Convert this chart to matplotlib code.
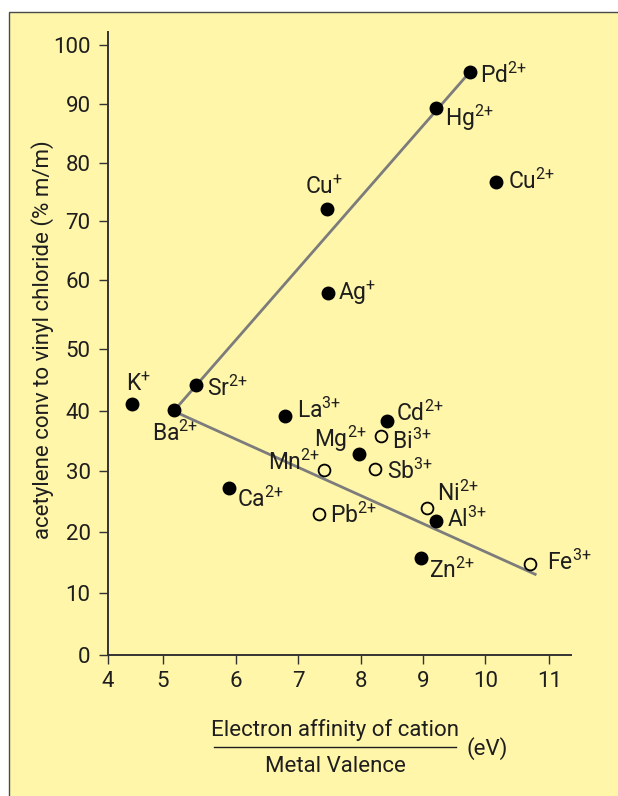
import numpy as np
import matplotlib
matplotlib.use("Agg")
import matplotlib.pyplot as plt
from matplotlib.patches import Rectangle
from matplotlib.lines import Line2D

FONT = "Roboto"
plt.rcParams['font.family'] = [FONT, 'DejaVu Sans']
plt.rcParams['mathtext.fontset'] = 'custom'
plt.rcParams['mathtext.rm'] = FONT
plt.rcParams['mathtext.it'] = FONT
plt.rcParams['mathtext.bf'] = FONT

# ---------------- data ----------------
ions = ["Pd", "Hg", "Cu", "Cu", "Ag", "K", "Ba", "Sr", "La", "Ca",
        "Cd", "Mg", "Zn", "Al", "Mn", "Pb", "Bi", "Sb", "Ni", "Fe"]
charges = ["2+", "2+", "+", "2+", "+", "+", "2+", "2+", "3+", "2+",
           "2+", "2+", "2+", "3+", "2+", "2+", "3+", "3+", "2+", "3+"]
x_vals = [9.76, 9.21, 7.45, 10.17, 7.47, 4.44, 5.15, 5.46, 6.78, 5.91,
          8.42, 7.96, 8.97, 9.21, 7.40, 7.33, 8.32, 8.23, 9.06, 10.70]
y_vals = [95.5, 89.2, 72.1, 76.7, 58.1, 41.2, 40.2, 44.2, 39.2, 27.1,
          38.3, 32.8, 15.7, 21.8, 30.2, 22.9, 35.8, 30.3, 23.9, 14.8]
filled = [True, True, True, True, True, True, True, True, True, True,
          True, True, True, True, False, False, False, False, False, False]

# trend lines
upper_x = [5.15, 9.76]
upper_y = [40.0, 95.5]
lower_x = [5.15, 10.80]
lower_y = [40.0, 13.0]

x_ticks = [4, 5, 6, 7, 8, 9, 10, 11]
y_ticks = [0, 10, 20, 30, 40, 50, 60, 70, 80, 90, 100]

# ---------------- layout / style ----------------
W, H = 618, 796
# label offsets in pixels (dx, dy) and horizontal alignment
label_off = [(10, -11), (9, -18), (-22, 15), (12, -7), (10, -7), (-6, 13),
             (-22, -31), (11, -11), (12, -2), (8, -18),
             (9, 0), (8, 7), (8, -20), (11, -6), (-3, 0), (11, -9),
             (11, -13), (12, -10), (10, 7), (17, -6)]
label_ha = ["left"] * 11 + ["right", "left", "left", "right"] + ["left"] * 5

# hand-drawn original axes have uneven tick spacing; reproduce via a scale
x_brk = [3, 4, 5, 6, 7, 8, 9, 10, 11, 12]
x_pos = [45, 108, 162.7, 235.7, 298.3, 361, 422.7, 485, 549, 612]
y_brk = [-10, 0, 10, 20, 30, 40, 50, 60, 70, 80, 90, 100, 110]
y_pos = [-60, 0, 61.7, 123.3, 184.3, 244, 305.7, 375.7, 434, 492.7, 551.7, 610, 668]

def fx(v):
    return np.interp(v, x_brk, x_pos)

def fx_inv(v):
    return np.interp(v, x_pos, x_brk)

def fy(v):
    return np.interp(v, y_brk, y_pos)

def fy_inv(v):
    return np.interp(v, y_pos, y_brk)

BG = "#FFF6AA"
TXT = "#1e1e1e"
LINE = "#7c7c7c"
FS = 16

fig = plt.figure(figsize=(W / 100, H / 100), dpi=100, facecolor="white")
fig.patches.append(Rectangle((9 / W, -0.01), 1.0, (H - 12) / H + 0.01,
                             transform=fig.transFigure, facecolor=BG,
                             edgecolor="#4a4a4a", linewidth=1.0, zorder=-5))

ax_l, ax_r = 108 / W, 570.7 / W
ax_b, ax_t = (H - 655) / H, (H - 32) / H
ax = fig.add_axes([ax_l, ax_b, ax_r - ax_l, ax_t - ax_b])
ax.set_zorder(1)
ax.set_facecolor("none")
ax.set_xscale("function", functions=(fx, fx_inv))
ax.set_yscale("function", functions=(fy, fy_inv))
ax.set_xlim(4, 11.34)
ax.set_ylim(0, 102.3)

for s in ["top", "right"]:
    ax.spines[s].set_visible(False)
for s in ["left", "bottom"]:
    ax.spines[s].set_color("#333333")
    ax.spines[s].set_linewidth(1.4)

ax.set_xticks(x_ticks)
ax.set_xticklabels([str(t) for t in x_ticks])
ax.set_yticks(y_ticks)
ax.set_yticklabels([str(t) for t in y_ticks])
ax.minorticks_off()
ax.tick_params(axis="both", direction="out", length=6.5, width=1.0,
               color="#333333", labelsize=FS, labelcolor=TXT)
ax.tick_params(axis="y", pad=6)
ax.tick_params(axis="x", pad=5)

ax.plot(upper_x, upper_y, color=LINE, lw=2.0, zorder=2, solid_capstyle="butt")
ax.plot(lower_x, lower_y, color=LINE, lw=2.0, zorder=2, solid_capstyle="butt")


def sup(ch):
    # wrap the sign in braces so mathtext does not space it as an operator
    if len(ch) == 2:
        return "$^{" + ch[0] + "{" + ch[1] + "}}$"
    return "$^{" + ch + "}$"


for i in range(len(ions)):
    if filled[i]:
        ax.plot(x_vals[i], y_vals[i], "o", ms=9, mfc="black", mec="black",
                mew=1, zorder=3)
    else:
        ax.plot(x_vals[i], y_vals[i], "o", ms=8.5, mfc=BG, mec="black",
                mew=1.3, zorder=3)
    dx, dy = label_off[i]
    ax.annotate(ions[i] + sup(charges[i]), (x_vals[i], y_vals[i]),
                xytext=(dx, dy), textcoords="offset pixels",
                ha=label_ha[i], va="baseline", fontsize=FS + 0.5, color=TXT,
                zorder=4)

# axis labels
fig.text(43 / W, 1 - 340 / H, "acetylene conv to vinyl chloride (% m/m)",
         rotation=90, ha="center", va="center", fontsize=FS, color=TXT)
fig.text(335 / W, 1 - 736 / H, "Electron affinity of cation",
         ha="center", va="baseline", fontsize=FS, color=TXT)
fig.text(335 / W, 1 - 772 / H, "Metal Valence",
         ha="center", va="baseline", fontsize=FS, color=TXT)
fig.lines.append(Line2D([214 / W, 456 / W], [1 - 746.7 / H, 1 - 746.7 / H],
                        transform=fig.transFigure, color=TXT, lw=1.0))
fig.text(466 / W, 1 - 749 / H, "(eV)", ha="left", va="center",
         fontsize=FS, color=TXT)

fig.savefig("out.png", dpi=100, facecolor="white")
